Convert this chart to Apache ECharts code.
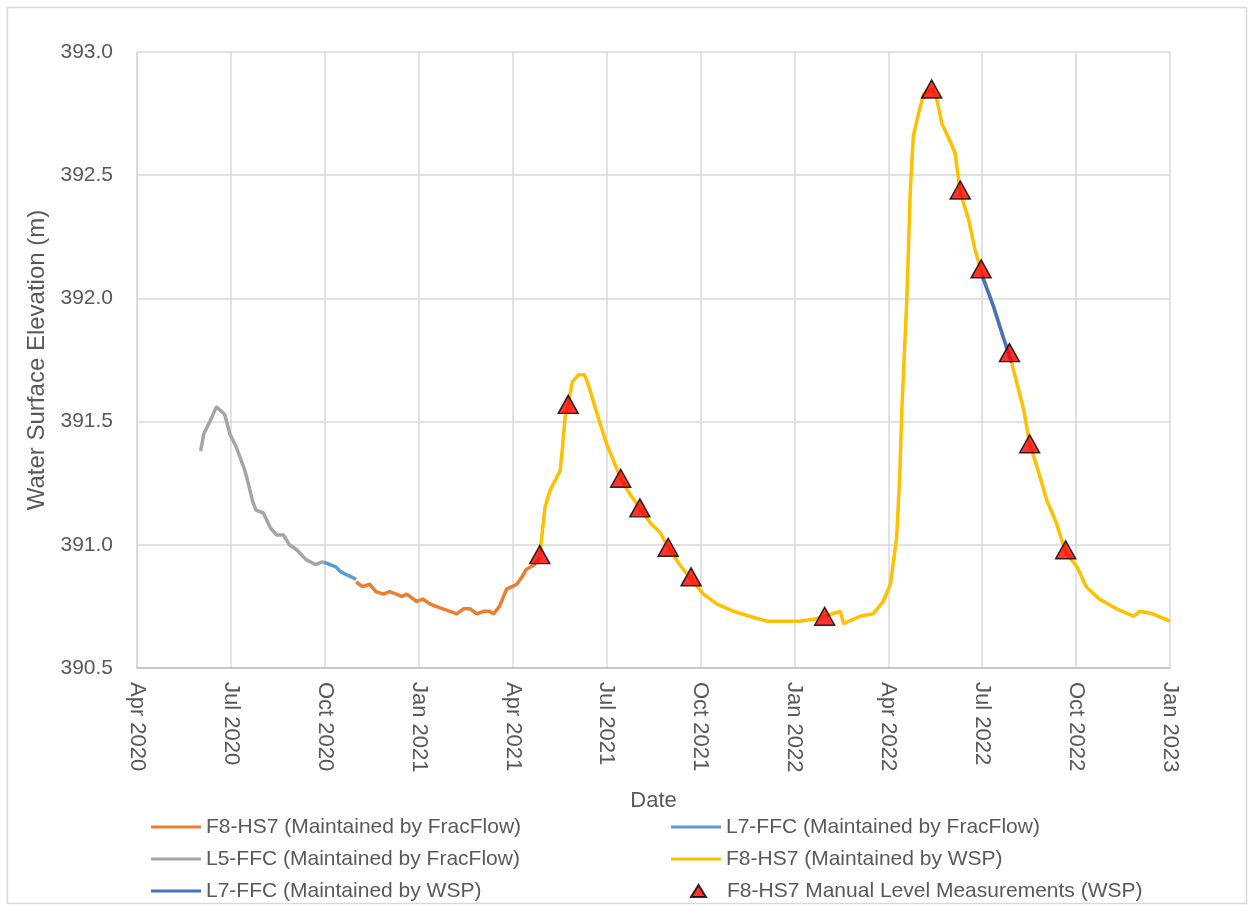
<!DOCTYPE html>
<html>
<head>
<meta charset="utf-8">
<script src="https://cdn.jsdelivr.net/npm/echarts@6/dist/echarts.min.js"></script>
<style>
html,body{margin:0;padding:0;background:#fff;}
#c{width:1254px;height:911px;}
</style>
</head>
<body>
<div id="c"></div>
<script>
// ---- data ----
const tickLabels = ['Apr 2020','Jul 2020','Oct 2020','Jan 2021','Apr 2021','Jul 2021','Oct 2021','Jan 2022','Apr 2022','Jul 2022','Oct 2022','Jan 2023'];

const l5FracDates = ['2020-06-02','2020-06-05','2020-06-13','2020-06-17','2020-06-25','2020-06-30','2020-07-06','2020-07-15','2020-07-23','2020-07-26','2020-08-02','2020-08-09','2020-08-15','2020-08-22','2020-08-28','2020-09-04','2020-09-13','2020-09-22','2020-09-28','2020-09-30'];
const l5FracVals  = [391.38,391.45,391.52,391.56,391.53,391.45,391.40,391.30,391.17,391.14,391.13,391.07,391.04,391.04,391.00,390.98,390.94,390.92,390.93,390.93];

const l7FracDates = ['2020-09-30','2020-10-06','2020-10-12','2020-10-17','2020-10-22','2020-11-01'];
const l7FracVals  = [390.93,390.92,390.91,390.89,390.88,390.86];

const f8FracDates = ['2020-11-01','2020-11-07','2020-11-14','2020-11-20','2020-11-27','2020-12-03','2020-12-10','2020-12-15','2020-12-20','2020-12-30','2021-01-05','2021-01-12','2021-01-18','2021-01-25','2021-02-01','2021-02-07','2021-02-13','2021-02-19','2021-02-25','2021-03-03','2021-03-09','2021-03-13','2021-03-19','2021-03-26','2021-04-05','2021-04-10','2021-04-14','2021-04-22','2021-04-27'];
const f8FracVals  = [390.85,390.83,390.84,390.81,390.80,390.81,390.80,390.79,390.80,390.77,390.78,390.76,390.75,390.74,390.73,390.72,390.74,390.74,390.72,390.73,390.73,390.72,390.75,390.82,390.84,390.87,390.90,390.92,390.95];

const f8WspDates = ['2021-04-27','2021-05-02','2021-05-07','2021-05-12','2021-05-17','2021-05-19','2021-05-22','2021-05-25','2021-05-29','2021-06-04','2021-06-10','2021-06-15','2021-06-22','2021-07-01','2021-07-09','2021-07-15','2021-07-25','2021-08-03','2021-08-13','2021-08-23','2021-08-31','2021-09-11','2021-09-22','2021-10-04','2021-10-17','2021-11-03','2021-11-18','2021-12-05','2021-12-21','2022-01-06','2022-01-23','2022-01-31','2022-02-14','2022-02-17','2022-03-04','2022-03-17','2022-03-27','2022-04-03','2022-04-04','2022-04-09','2022-04-12','2022-04-14','2022-04-19','2022-04-22','2022-04-25','2022-04-30','2022-05-05','2022-05-13','2022-05-18','2022-05-23','2022-05-31','2022-06-05','2022-06-10','2022-06-18','2022-06-24','2022-06-30','2022-07-12','2022-07-22','2022-07-28','2022-08-01','2022-08-11','2022-08-17','2022-08-24','2022-09-03','2022-09-12','2022-09-21','2022-10-02','2022-10-11','2022-10-24','2022-11-10','2022-11-26','2022-12-02','2022-12-15','2023-01-01'];
const f8WspVals  = [390.96,391.15,391.22,391.26,391.30,391.38,391.52,391.57,391.66,391.69,391.69,391.63,391.53,391.41,391.33,391.27,391.20,391.15,391.09,391.05,390.99,390.92,390.86,390.80,390.76,390.73,390.71,390.69,390.69,390.69,390.70,390.71,390.73,390.68,390.71,390.72,390.77,390.84,390.87,391.03,391.28,391.55,392.02,392.43,392.66,392.75,392.83,392.85,392.81,392.71,392.64,392.59,392.43,392.32,392.20,392.11,391.97,391.84,391.78,391.71,391.55,391.41,391.32,391.18,391.09,390.97,390.91,390.83,390.78,390.74,390.71,390.73,390.72,390.69];

const l7WspDates = ['2022-07-01','2022-07-12','2022-07-22','2022-07-30'];
const l7WspVals  = [392.09,391.97,391.84,391.74];

const manualDates = ['2021-04-27','2021-05-25','2021-07-15','2021-08-03','2021-08-31','2021-09-22','2022-01-31','2022-05-13','2022-06-10','2022-06-30','2022-07-28','2022-08-17','2022-09-21'];
const manualVals  = [390.96,391.57,391.27,391.15,390.99,390.87,390.71,392.85,392.44,392.12,391.78,391.41,390.98];

// ---- helpers ----
function toM(d){
  const p = d.split('-').map(Number);
  const days = new Date(p[0], p[1], 0).getDate();
  return (p[0]-2020)*12 + (p[1]-4) + (p[2]-1)/days;
}
function pairs(ds, vs){ return ds.map((d,i)=>[toM(d), vs[i]]); }

const FONT = '"Liberation Sans", Arial, sans-serif';
const TXT = '#595959';
// triangle centred in a 50 x 12 box
const TRI = 'path://M0 0 M50 12 M19 12 L26.5 0 L34 12 Z';

const chart = echarts.init(document.getElementById('c'), null, {renderer:'canvas'});

function lineSeries(name, color, data){
  return {name, type:'line', data, showSymbol:false, symbol:'none',
    lineStyle:{color, width:3.5}, itemStyle:{color}, animation:false};
}
const legText = {color:TXT, fontSize:21, fontFamily:FONT, lineHeight:22};

chart.setOption({
  animation:false,
  backgroundColor:'#fff',
  textStyle:{fontFamily:FONT},
  graphic:[{type:'rect', shape:{x:7.5,y:7.5,width:1239,height:896}, style:{fill:'none', stroke:'#d9d9d9', lineWidth:1.5}, silent:true}],
  grid:{left:137, right:84, top:52, bottom:243, containLabel:false},
  xAxis:{
    type:'value', min:0, max:33, interval:3,
    name:'Date', nameLocation:'middle', nameGap:122,
    nameTextStyle:{color:TXT, fontSize:22, fontFamily:FONT},
    axisLine:{show:true, lineStyle:{color:'#bfbfbf', width:1.5}},
    axisTick:{show:false},
    splitLine:{show:true, lineStyle:{color:'#d9d9d9', width:1.5}},
    axisLabel:{rotate:-90, color:TXT, fontSize:22, fontFamily:FONT, margin:14,
      formatter:(v)=>tickLabels[Math.round(v/3)] || ''}
  },
  yAxis:{
    type:'value', min:390.5, max:393, interval:0.5,
    name:'Water Surface Elevation (m)', nameLocation:'middle', nameGap:83,
    nameTextStyle:{color:TXT, fontSize:24, fontFamily:FONT},
    axisLine:{show:true, lineStyle:{color:'#d9d9d9', width:1.5}},
    axisTick:{show:false},
    splitLine:{show:true, lineStyle:{color:'#d9d9d9', width:1.5}},
    axisLabel:{color:TXT, fontSize:21, fontFamily:FONT, margin:24, formatter:(v)=>v.toFixed(1)}
  },
  legend:[
    {orient:'vertical', left:146, top:811, itemWidth:50, itemHeight:3, itemGap:10,
     textStyle:legText,
     data:[{name:'F8-HS7 (Maintained by FracFlow)', icon:'rect'},{name:'L5-FFC (Maintained by FracFlow)', icon:'rect'},{name:'L7-FFC (Maintained by WSP)', icon:'rect'}]},
    {orient:'vertical', left:666, top:811, itemWidth:50, itemHeight:3, itemGap:10,
     textStyle:legText,
     data:[{name:'L7-FFC (Maintained by FracFlow)', icon:'rect'},{name:'F8-HS7 (Maintained by WSP)', icon:'rect'}]},
    {orient:'vertical', left:666, top:875, itemWidth:50, itemHeight:12, itemGap:10,
     textStyle:legText, symbolKeepAspect:false,
     data:[{name:'F8-HS7 Manual Level Measurements (WSP)', icon:TRI}]}
  ],
  series:[
    lineSeries('F8-HS7 (Maintained by FracFlow)', '#ED7D31', pairs(f8FracDates, f8FracVals)),
    lineSeries('L7-FFC (Maintained by FracFlow)', '#5B9BD5', pairs(l7FracDates, l7FracVals)),
    lineSeries('L5-FFC (Maintained by FracFlow)', '#A5A5A5', pairs(l5FracDates, l5FracVals)),
    lineSeries('F8-HS7 (Maintained by WSP)', '#FFC000', pairs(f8WspDates, f8WspVals)),
    lineSeries('L7-FFC (Maintained by WSP)', '#4472C4', pairs(l7WspDates, l7WspVals)),
    {name:'F8-HS7 Manual Level Measurements (WSP)', type:'scatter', data:pairs(manualDates, manualVals),
     symbol:'triangle', symbolSize:[20,18], z:5,
     itemStyle:{color:'#FF0000', borderColor:'#000', borderWidth:1.5}}
  ]
});
</script>
</body>
</html>
